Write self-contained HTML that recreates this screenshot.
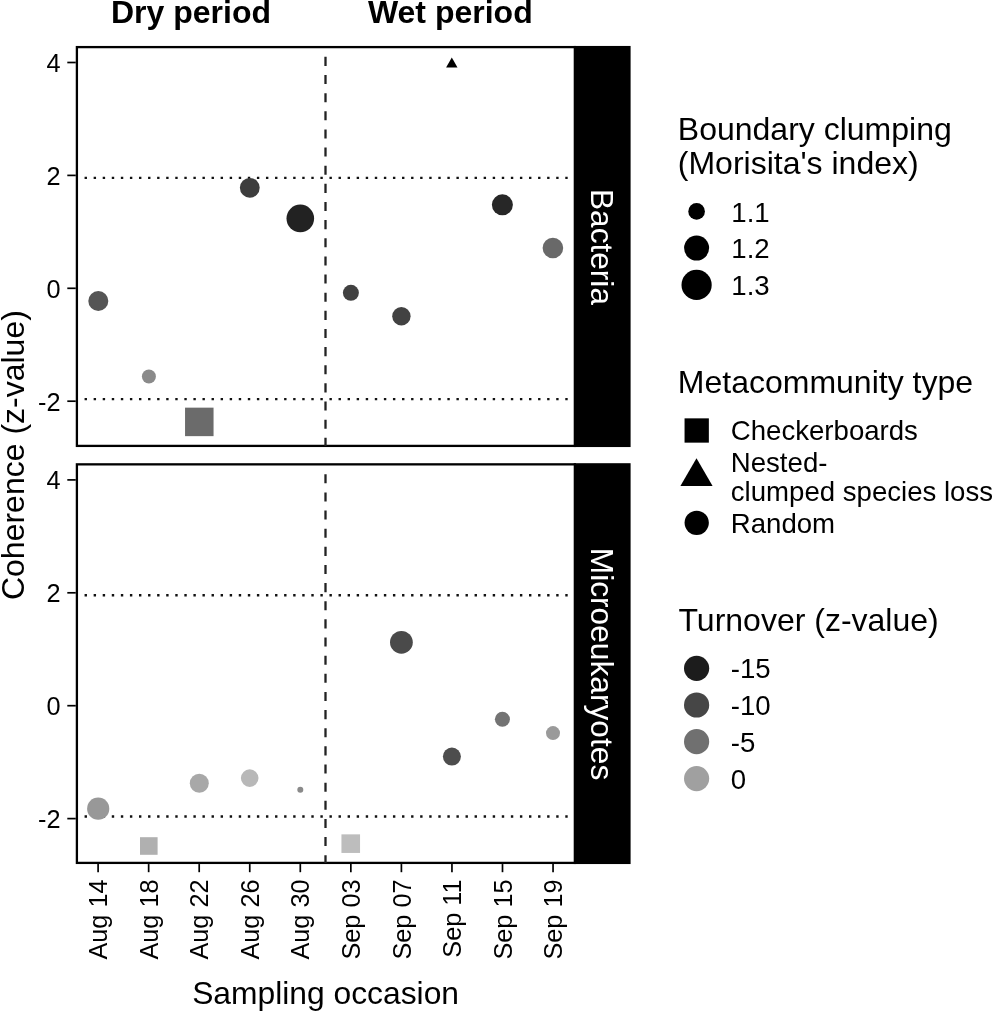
<!DOCTYPE html>
<html lang="en"><head><meta charset="utf-8"><title>Coherence by sampling occasion</title>
<style>html,body{margin:0;padding:0;background:#fff;}body{width:995px;height:1013px;overflow:hidden;}svg{display:block;}text{font-family:'Liberation Sans', Arial, Helvetica, sans-serif;fill:#000;}</style>
</head><body>
<svg width="995" height="1013" viewBox="0 0 995 1013">
<rect x="0" y="0" width="995" height="1013" fill="#ffffff"/>
<text x="191.0" y="23.1" font-size="32" font-weight="bold" text-anchor="middle">Dry period</text>
<text x="450.3" y="23.1" font-size="32" font-weight="bold" text-anchor="middle">Wet period</text>
<rect x="573.70" y="45.95" width="56.90" height="401.10" fill="#000"/>
<rect x="76.90" y="47.10" width="497.95" height="398.80" fill="#fff" stroke="#000" stroke-width="2.30"/>
<line x1="67.3" x2="75.75" y1="62.50" y2="62.50" stroke="#000" stroke-width="1.7"/>
<text x="60.6" y="72.00" font-size="25.3" text-anchor="end">4</text>
<line x1="67.3" x2="75.75" y1="175.40" y2="175.40" stroke="#000" stroke-width="1.7"/>
<text x="60.6" y="184.90" font-size="25.3" text-anchor="end">2</text>
<line x1="67.3" x2="75.75" y1="288.30" y2="288.30" stroke="#000" stroke-width="1.7"/>
<text x="60.6" y="297.80" font-size="25.3" text-anchor="end">0</text>
<line x1="67.3" x2="75.75" y1="401.20" y2="401.20" stroke="#000" stroke-width="1.7"/>
<text x="60.6" y="410.70" font-size="25.3" text-anchor="end">-2</text>
<line x1="84.57" x2="568.2" y1="177.86" y2="177.86" stroke="#111" stroke-width="2.4" stroke-dasharray="2.4 6.67"/>
<line x1="84.57" x2="568.2" y1="399.14" y2="399.14" stroke="#111" stroke-width="2.4" stroke-dasharray="2.4 6.67"/>
<line x1="325.5" x2="325.5" y1="56.85" y2="445.90" stroke="#222" stroke-width="2.3" stroke-dasharray="9.07 9.07"/>
<rect x="573.70" y="463.20" width="56.90" height="400.85" fill="#000"/>
<rect x="76.90" y="464.35" width="497.95" height="398.55" fill="#fff" stroke="#000" stroke-width="2.30"/>
<line x1="67.3" x2="75.75" y1="479.90" y2="479.90" stroke="#000" stroke-width="1.7"/>
<text x="60.6" y="489.40" font-size="25.3" text-anchor="end">4</text>
<line x1="67.3" x2="75.75" y1="592.80" y2="592.80" stroke="#000" stroke-width="1.7"/>
<text x="60.6" y="602.30" font-size="25.3" text-anchor="end">2</text>
<line x1="67.3" x2="75.75" y1="705.70" y2="705.70" stroke="#000" stroke-width="1.7"/>
<text x="60.6" y="715.20" font-size="25.3" text-anchor="end">0</text>
<line x1="67.3" x2="75.75" y1="818.60" y2="818.60" stroke="#000" stroke-width="1.7"/>
<text x="60.6" y="828.10" font-size="25.3" text-anchor="end">-2</text>
<line x1="84.57" x2="568.2" y1="595.26" y2="595.26" stroke="#111" stroke-width="2.4" stroke-dasharray="2.4 6.67"/>
<line x1="84.57" x2="568.2" y1="816.54" y2="816.54" stroke="#111" stroke-width="2.4" stroke-dasharray="2.4 6.67"/>
<line x1="325.5" x2="325.5" y1="474.25" y2="862.90" stroke="#222" stroke-width="2.3" stroke-dasharray="9.07 9.07"/>
<text transform="translate(591.0,247) rotate(90)" font-size="31.6" text-anchor="middle" style="fill:#fff">Bacteria</text>
<text transform="translate(591.0,664) rotate(90)" font-size="31.7" text-anchor="middle" style="fill:#fff">Microeukaryotes</text>
<circle cx="98.30" cy="301.00" r="10.00" fill="#555555"/>
<circle cx="148.90" cy="376.50" r="7.00" fill="#8a8a8a"/>
<rect x="185.05" y="407.65" width="28.50" height="28.50" fill="#6b6b6b"/>
<circle cx="249.80" cy="187.80" r="9.90" fill="#3d3d3d"/>
<circle cx="300.30" cy="218.40" r="13.80" fill="#222222"/>
<circle cx="350.90" cy="292.80" r="8.00" fill="#414141"/>
<circle cx="401.40" cy="316.30" r="9.20" fill="#424242"/>
<polygon points="451.8,57.6 457.5,67.5 446.1,67.5" fill="#000"/>
<circle cx="502.40" cy="204.80" r="10.50" fill="#272727"/>
<circle cx="552.90" cy="248.00" r="10.30" fill="#696969"/>
<circle cx="98.20" cy="808.70" r="11.10" fill="#989898"/>
<rect x="140.00" y="837.20" width="17.60" height="17.60" fill="#b0b0b0"/>
<circle cx="199.30" cy="783.30" r="9.50" fill="#a8a8a8"/>
<circle cx="249.70" cy="778.10" r="8.80" fill="#b8b8b8"/>
<circle cx="300.30" cy="789.75" r="3.00" fill="#8a8a8a"/>
<rect x="341.45" y="834.35" width="18.60" height="18.60" fill="#bdbdbd"/>
<circle cx="401.40" cy="642.30" r="11.40" fill="#4a4a4a"/>
<circle cx="451.90" cy="756.60" r="9.00" fill="#4d4d4d"/>
<circle cx="502.40" cy="719.20" r="7.50" fill="#737373"/>
<circle cx="553.00" cy="733.10" r="7.00" fill="#9a9a9a"/>
<line x1="98.10" x2="98.10" y1="864.05" y2="872.2" stroke="#000" stroke-width="1.7"/>
<text transform="translate(107.20,879.4) rotate(-90)" font-size="25.3" text-anchor="end">Aug 14</text>
<line x1="148.65" x2="148.65" y1="864.05" y2="872.2" stroke="#000" stroke-width="1.7"/>
<text transform="translate(157.75,879.4) rotate(-90)" font-size="25.3" text-anchor="end">Aug 18</text>
<line x1="199.20" x2="199.20" y1="864.05" y2="872.2" stroke="#000" stroke-width="1.7"/>
<text transform="translate(208.30,879.4) rotate(-90)" font-size="25.3" text-anchor="end">Aug 22</text>
<line x1="249.75" x2="249.75" y1="864.05" y2="872.2" stroke="#000" stroke-width="1.7"/>
<text transform="translate(258.85,879.4) rotate(-90)" font-size="25.3" text-anchor="end">Aug 26</text>
<line x1="300.30" x2="300.30" y1="864.05" y2="872.2" stroke="#000" stroke-width="1.7"/>
<text transform="translate(309.40,879.4) rotate(-90)" font-size="25.3" text-anchor="end">Aug 30</text>
<line x1="350.85" x2="350.85" y1="864.05" y2="872.2" stroke="#000" stroke-width="1.7"/>
<text transform="translate(359.95,879.4) rotate(-90)" font-size="25.3" text-anchor="end">Sep 03</text>
<line x1="401.40" x2="401.40" y1="864.05" y2="872.2" stroke="#000" stroke-width="1.7"/>
<text transform="translate(410.50,879.4) rotate(-90)" font-size="25.3" text-anchor="end">Sep 07</text>
<line x1="451.95" x2="451.95" y1="864.05" y2="872.2" stroke="#000" stroke-width="1.7"/>
<text transform="translate(461.05,879.4) rotate(-90)" font-size="25.3" text-anchor="end">Sep 11</text>
<line x1="502.50" x2="502.50" y1="864.05" y2="872.2" stroke="#000" stroke-width="1.7"/>
<text transform="translate(511.60,879.4) rotate(-90)" font-size="25.3" text-anchor="end">Sep 15</text>
<line x1="553.05" x2="553.05" y1="864.05" y2="872.2" stroke="#000" stroke-width="1.7"/>
<text transform="translate(562.15,879.4) rotate(-90)" font-size="25.3" text-anchor="end">Sep 19</text>
<text x="325.6" y="1003.6" font-size="31.8" text-anchor="middle">Sampling occasion</text>
<text transform="translate(23.6,455.1) rotate(-90)" font-size="32" text-anchor="middle">Coherence (z-value)</text>
<text x="677.8" y="140.0" font-size="32">Boundary clumping</text>
<text x="677.8" y="173.9" font-size="32">(Morisita's index)</text>
<circle cx="696.60" cy="211.40" r="8.30" fill="#000"/>
<text x="731.3" y="221.50" font-size="27.6">1.1</text>
<circle cx="696.60" cy="248.10" r="12.50" fill="#000"/>
<text x="731.3" y="258.20" font-size="27.6">1.2</text>
<circle cx="696.60" cy="284.90" r="15.10" fill="#000"/>
<text x="731.3" y="295.00" font-size="27.6">1.3</text>
<text x="677.8" y="393.1" font-size="32">Metacommunity type</text>
<rect x="684.55" y="418.35" width="24.30" height="24.30" fill="#000"/>
<text x="730.8" y="440.3" font-size="27.6">Checkerboards</text>
<polygon points="696.5,458.2 712.6,486 680.4,486" fill="#000"/>
<text x="730.8" y="471.5" font-size="27.6">Nested-</text>
<text x="730.8" y="501.4" font-size="27.6">clumped species loss</text>
<circle cx="696.70" cy="522.80" r="12.15" fill="#000"/>
<text x="730.8" y="533.0" font-size="27.6">Random</text>
<text x="678.5" y="631.0" font-size="32">Turnover (z-value)</text>
<circle cx="696.60" cy="668.30" r="12.60" fill="#1c1c1c"/>
<text x="730.8" y="678.40" font-size="27.6">-15</text>
<circle cx="696.60" cy="705.00" r="12.60" fill="#464646"/>
<text x="730.8" y="715.10" font-size="27.6">-10</text>
<circle cx="696.60" cy="741.70" r="12.60" fill="#707070"/>
<text x="730.8" y="751.80" font-size="27.6">-5</text>
<circle cx="696.60" cy="778.60" r="12.60" fill="#a0a0a0"/>
<text x="730.8" y="788.70" font-size="27.6">0</text>
</svg>
</body></html>
